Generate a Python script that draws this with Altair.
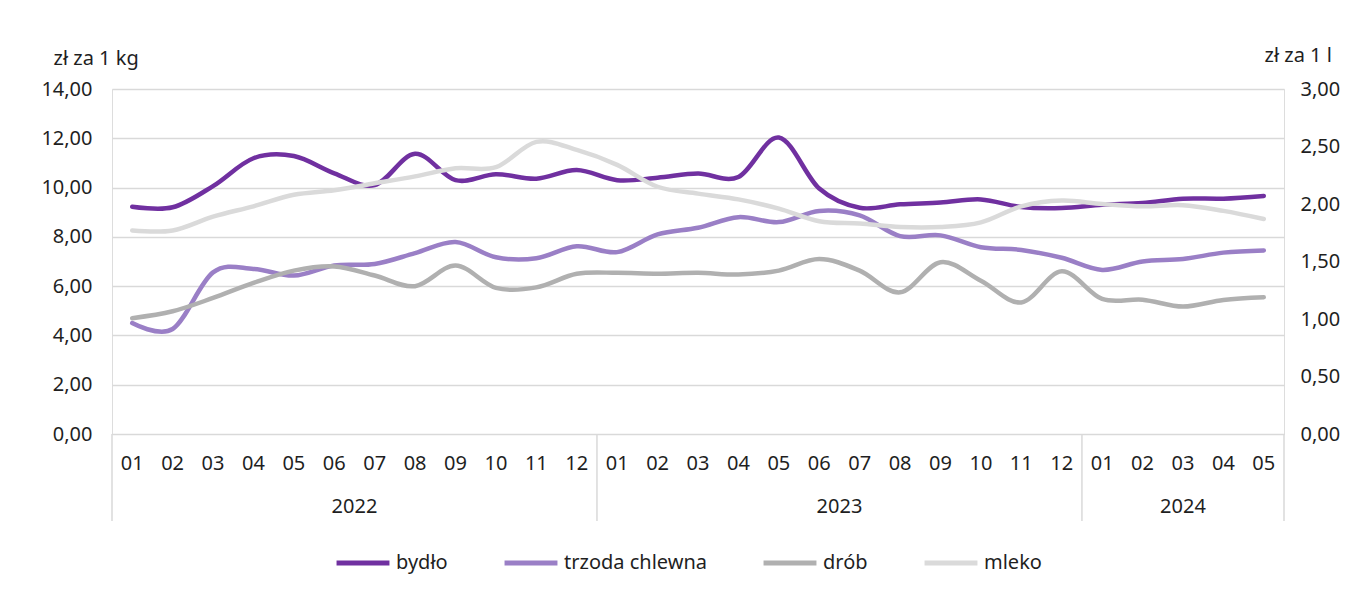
import altair as alt
import pandas as pd

months = ["01", "02", "03", "04", "05", "06", "07", "08", "09", "10", "11", "12",
          "01", "02", "03", "04", "05", "06", "07", "08", "09", "10", "11", "12",
          "01", "02", "03", "04", "05"]
years = ["2022", "2023", "2024"]
year_start = [0, 12, 24]
year_end = [12, 24, 29]

bydlo = [9.22, 9.20, 10.06, 11.19, 11.28, 10.58, 10.10, 11.37, 10.30, 10.54, 10.36, 10.71,
         10.30, 10.40, 10.57, 10.43, 12.03, 9.96, 9.18, 9.32, 9.39, 9.52, 9.21, 9.17,
         9.30, 9.37, 9.55, 9.55, 9.66]
trzoda = [4.50, 4.26, 6.56, 6.70, 6.43, 6.84, 6.90, 7.34, 7.79, 7.17, 7.13, 7.62,
          7.38, 8.10, 8.37, 8.80, 8.60, 9.05, 8.87, 8.03, 8.06, 7.58, 7.47, 7.15,
          6.66, 7.00, 7.10, 7.36, 7.45]
drob = [4.70, 4.98, 5.52, 6.13, 6.63, 6.80, 6.43, 6.00, 6.84, 5.93, 5.95, 6.50,
        6.54, 6.50, 6.54, 6.47, 6.63, 7.10, 6.63, 5.75, 6.97, 6.22, 5.34, 6.60,
        5.48, 5.45, 5.17, 5.44, 5.55]
mleko = [1.77, 1.77, 1.89, 1.98, 2.08, 2.12, 2.18, 2.24, 2.31, 2.32, 2.54, 2.47,
         2.34, 2.15, 2.09, 2.04, 1.96, 1.85, 1.83, 1.80, 1.80, 1.84, 1.98, 2.03,
         2.00, 1.98, 1.99, 1.94, 1.87]

series_names = ["bydło", "trzoda chlewna", "drób", "mleko"]
colors = ["#7030A0", "#9A7FC6", "#B0B0B0", "#DADADA"]

FONT = "Noto Sans"
FS = 20
TXT = "#1f1f1f"
W, H = 1172, 345

xs = [i + 0.5 for i in range(len(months))]
rows = []
for name, vals in zip(series_names[:3], [bydlo, trzoda, drob]):
    for x, v in zip(xs, vals):
        rows.append({"x": x, "v": v, "s": name})
meat_df = pd.DataFrame(rows)
milk_df = pd.DataFrame({"x": xs, "v": mleko, "s": ["mleko"] * len(xs)})
month_df = pd.DataFrame({"x": xs, "m": months})
year_df = pd.DataFrame({"x": [(a + b) / 2 for a, b in zip(year_start, year_end)], "y": years})
sep_df = pd.DataFrame({"x": [0] + year_end})

xscale = alt.Scale(domain=[0, 29], nice=False, zero=False)
color = alt.Color("s:N", scale=alt.Scale(domain=series_names, range=colors),
                  sort=series_names,
                  legend=alt.Legend(title=None, orient="none", direction="horizontal",
                                    legendX=222, legendY=445, symbolType="stroke",
                                    symbolSize=2800, symbolStrokeWidth=5,
                                    labelFont=FONT, labelFontSize=FS, labelColor=TXT,
                                    labelOffset=4, columnPadding=46, labelLimit=300))

num_expr = "replace(format(datum.value, '.2f'), '.', ',')"

meat = alt.Chart(meat_df).mark_line(interpolate="cardinal", strokeWidth=4.5, strokeCap="round").encode(
    x=alt.X("x:Q", scale=xscale, axis=None),
    y=alt.Y("v:Q", scale=alt.Scale(domain=[0, 14], nice=False),
            axis=alt.Axis(values=list(range(0, 15, 2)), title="zł za 1 kg", titleAngle=0,
                          titleAlign="left", titleBaseline="middle", titleX=-59, titleY=-31,
                          titleFont=FONT, titleFontSize=FS, titleFontWeight="normal",
                          titleColor=TXT, labelExpr=num_expr,
                          labelFont=FONT, labelFontSize=FS, labelColor=TXT,
                          labelPadding=20, domain=False, ticks=False,
                          grid=True, gridColor="#D9D9D9", gridWidth=1.5)),
    color=color,
    detail="s:N",
    order=alt.Order("x:Q"),
)

milk = alt.Chart(milk_df).mark_line(interpolate="cardinal", strokeWidth=4.5, strokeCap="round").encode(
    x=alt.X("x:Q", scale=xscale, axis=None),
    y=alt.Y("v:Q", scale=alt.Scale(domain=[0, 3], nice=False),
            axis=alt.Axis(orient="right", values=[0, 0.5, 1, 1.5, 2, 2.5, 3], title="zł za 1 l",
                          titleAngle=0, titleAlign="left", titleBaseline="middle",
                          titleX=-20, titleY=-34,
                          titleFont=FONT, titleFontSize=FS, titleFontWeight="normal",
                          titleColor=TXT, labelExpr=num_expr,
                          labelFont=FONT, labelFontSize=FS, labelColor=TXT,
                          labelPadding=16, domain=False, ticks=False, grid=False)),
    color=color,
)

seps = alt.Chart(sep_df).mark_rule(color="#D9D9D9", strokeWidth=1.5).encode(
    x=alt.X("x:Q", scale=xscale),
    y=alt.value(H),
    y2=alt.value(H + 87),
)

mlabels = alt.Chart(month_df).mark_text(font=FONT, fontSize=FS, color=TXT, baseline="middle").encode(
    x=alt.X("x:Q", scale=xscale),
    y=alt.value(H + 30),
    text="m:N",
)

ylabels = alt.Chart(year_df).mark_text(font=FONT, fontSize=FS, color=TXT, baseline="middle").encode(
    x=alt.X("x:Q", scale=xscale),
    y=alt.value(H + 73),
    text="y:N",
)

chart = alt.layer(
    alt.layer(meat, milk).resolve_scale(y="independent"),
    seps, mlabels, ylabels,
).properties(
    width=W, height=H,
    autosize=alt.AutoSizeParams(type="none"),
    padding={"left": 104, "top": 81, "right": 62, "bottom": 140},
).configure_view(stroke=None).configure(background="white")

chart.save("out.html", embed_options={"renderer": "svg", "actions": False})
